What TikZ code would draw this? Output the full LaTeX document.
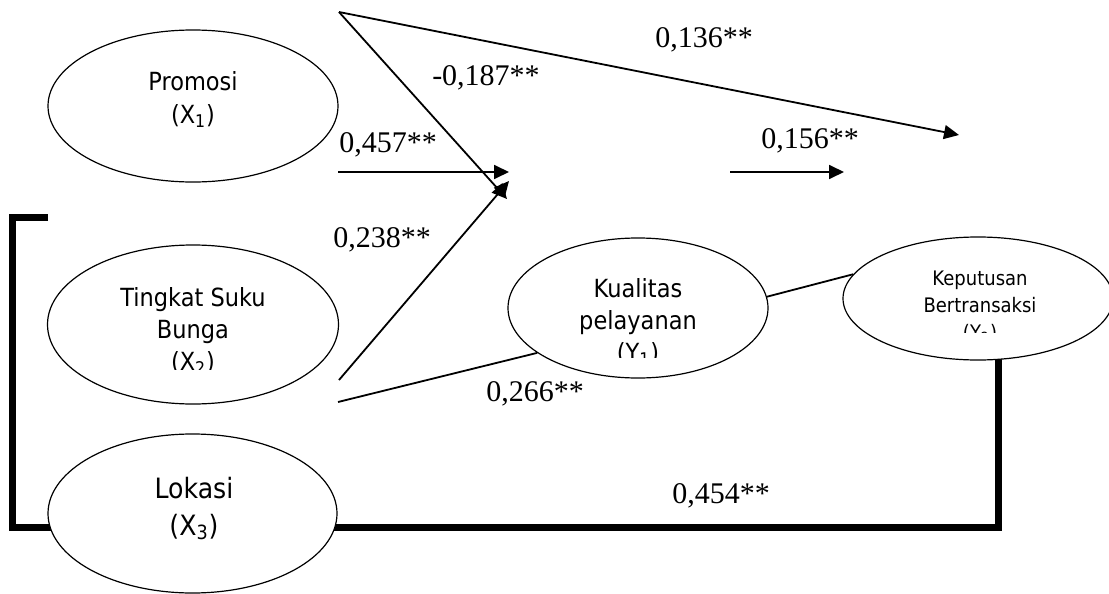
\documentclass[tikz,border=0pt]{standalone}
\usepackage{fontspec}
\setmainfont{Liberation Serif}
\newfontfamily\tahoma[FakeStretch=0.9]{DejaVu Sans}
\usetikzlibrary{arrows.meta, shapes.geometric, backgrounds}

\begin{document}
\begin{tikzpicture}[
    x=0.5pt, y=-0.5pt,
    var/.style={draw, ellipse, fill=white, line width=0.6pt, inner sep=0pt},
    vtext/.style={align=center, inner sep=0pt, anchor=base, font=\tahoma\fontsize{12.5}{16}\selectfont},
    coef/.style={inner sep=0pt, anchor=base, font=\fontsize{15}{17}\selectfont},
    arr/.style={-{Triangle[length=7.5pt, width=7pt]}, line width=0.9pt},
    link/.style={line width=0.9pt},
    bar/.style={line width=3.5pt},
]
    \useasboundingbox (0,0) rectangle (1109,594);

    % Variables
    \node[var, minimum width=145pt, minimum height=76pt] (x1) at (193,106) {};
    \node[var, minimum width=145.5pt, minimum height=79.5pt] (x2) at (193,324.5) {};
    \node[var, minimum width=144.5pt, minimum height=79.5pt] (x3) at (192.5,513.5) {};
    \node[var, minimum width=130pt, minimum height=70pt] (y1) at (638,308) {};
    \node[var, minimum width=135pt, minimum height=61.5pt] (y2) at (978,298.5) {};

    % texts (base = last line)
    \node[vtext, font={\tahoma\fontsize{12.5}{16.5}\selectfont}] (x1t) at (193,123) {Promosi\\(X\textsubscript{1})};
    \begin{scope}
        \clip (48,245) rectangle (339,369);
        \node[vtext] (x2t) at (193,370) {Tingkat Suku\\Bunga\\(X\textsubscript{2})};
    \end{scope}
    \node[vtext, font={\tahoma\fontsize{14}{18.5}\selectfont}] (x3t) at (194,535) {Lokasi\\(X\textsubscript{3})};
    \begin{scope}
        \clip (508,237) rectangle (768,357);
        \node[vtext] (y1t) at (638,361) {Kualitas\\pelayanan\\(Y\textsubscript{1})};
    \end{scope}
    \begin{scope}
        \clip (843,237) rectangle (1109,332);
        \node[vtext, font={\tahoma\fontsize{10}{13.5}\selectfont}] (y2t) at (980,339) {Keputusan\\Bertransaksi\\(Y\textsubscript{2})};
    \end{scope}

    % Free ends
    \coordinate (apex) at (339,12);
    \coordinate (y2in) at (959,135);
    \coordinate (y1inA) at (507,199);
    \coordinate (x1out) at (338,172);
    \coordinate (y1inB) at (509,172);
    \coordinate (x2out) at (339,380);
    \coordinate (y1inC) at (509,181);
    \coordinate (y1out) at (730,172);
    \coordinate (y2inB) at (844,172);
    \coordinate (x2low) at (338,402);
    \coordinate (barstart) at (48,217);
    \coordinate (barend) at (998,350);

    % Paths
    \draw[arr] (apex) -- (y2in);
    \draw[arr] (apex) -- (y1inA);
    \draw[arr] (x1out) -- (y1inB);
    \draw[arr] (x2out) -- (y1inC);
    \draw[arr] (y1out) -- (y2inB);
    \begin{scope}[on background layer]
        \draw[link] (x2low) -- (y1.204);
        \draw[link] (y1.5) -- (y2.169);
        \draw[bar] (barstart) -- (12,217) |- (998,527) -- (barend);
    \end{scope}

    % Coefficients
    \node[coef] (c136) at (704,47) {0,136**};
    \node[coef] (c187) at (486,85) {-0,187**};
    \node[coef] (c457) at (388,152) {0,457**};
    \node[coef] (c238) at (382,247) {0,238**};
    \node[coef] (c156) at (810,148) {0,156**};
    \node[coef] (c266) at (535,401) {0,266**};
    \node[coef] (c454) at (721,503) {0,454**};
\end{tikzpicture}
\end{document}
